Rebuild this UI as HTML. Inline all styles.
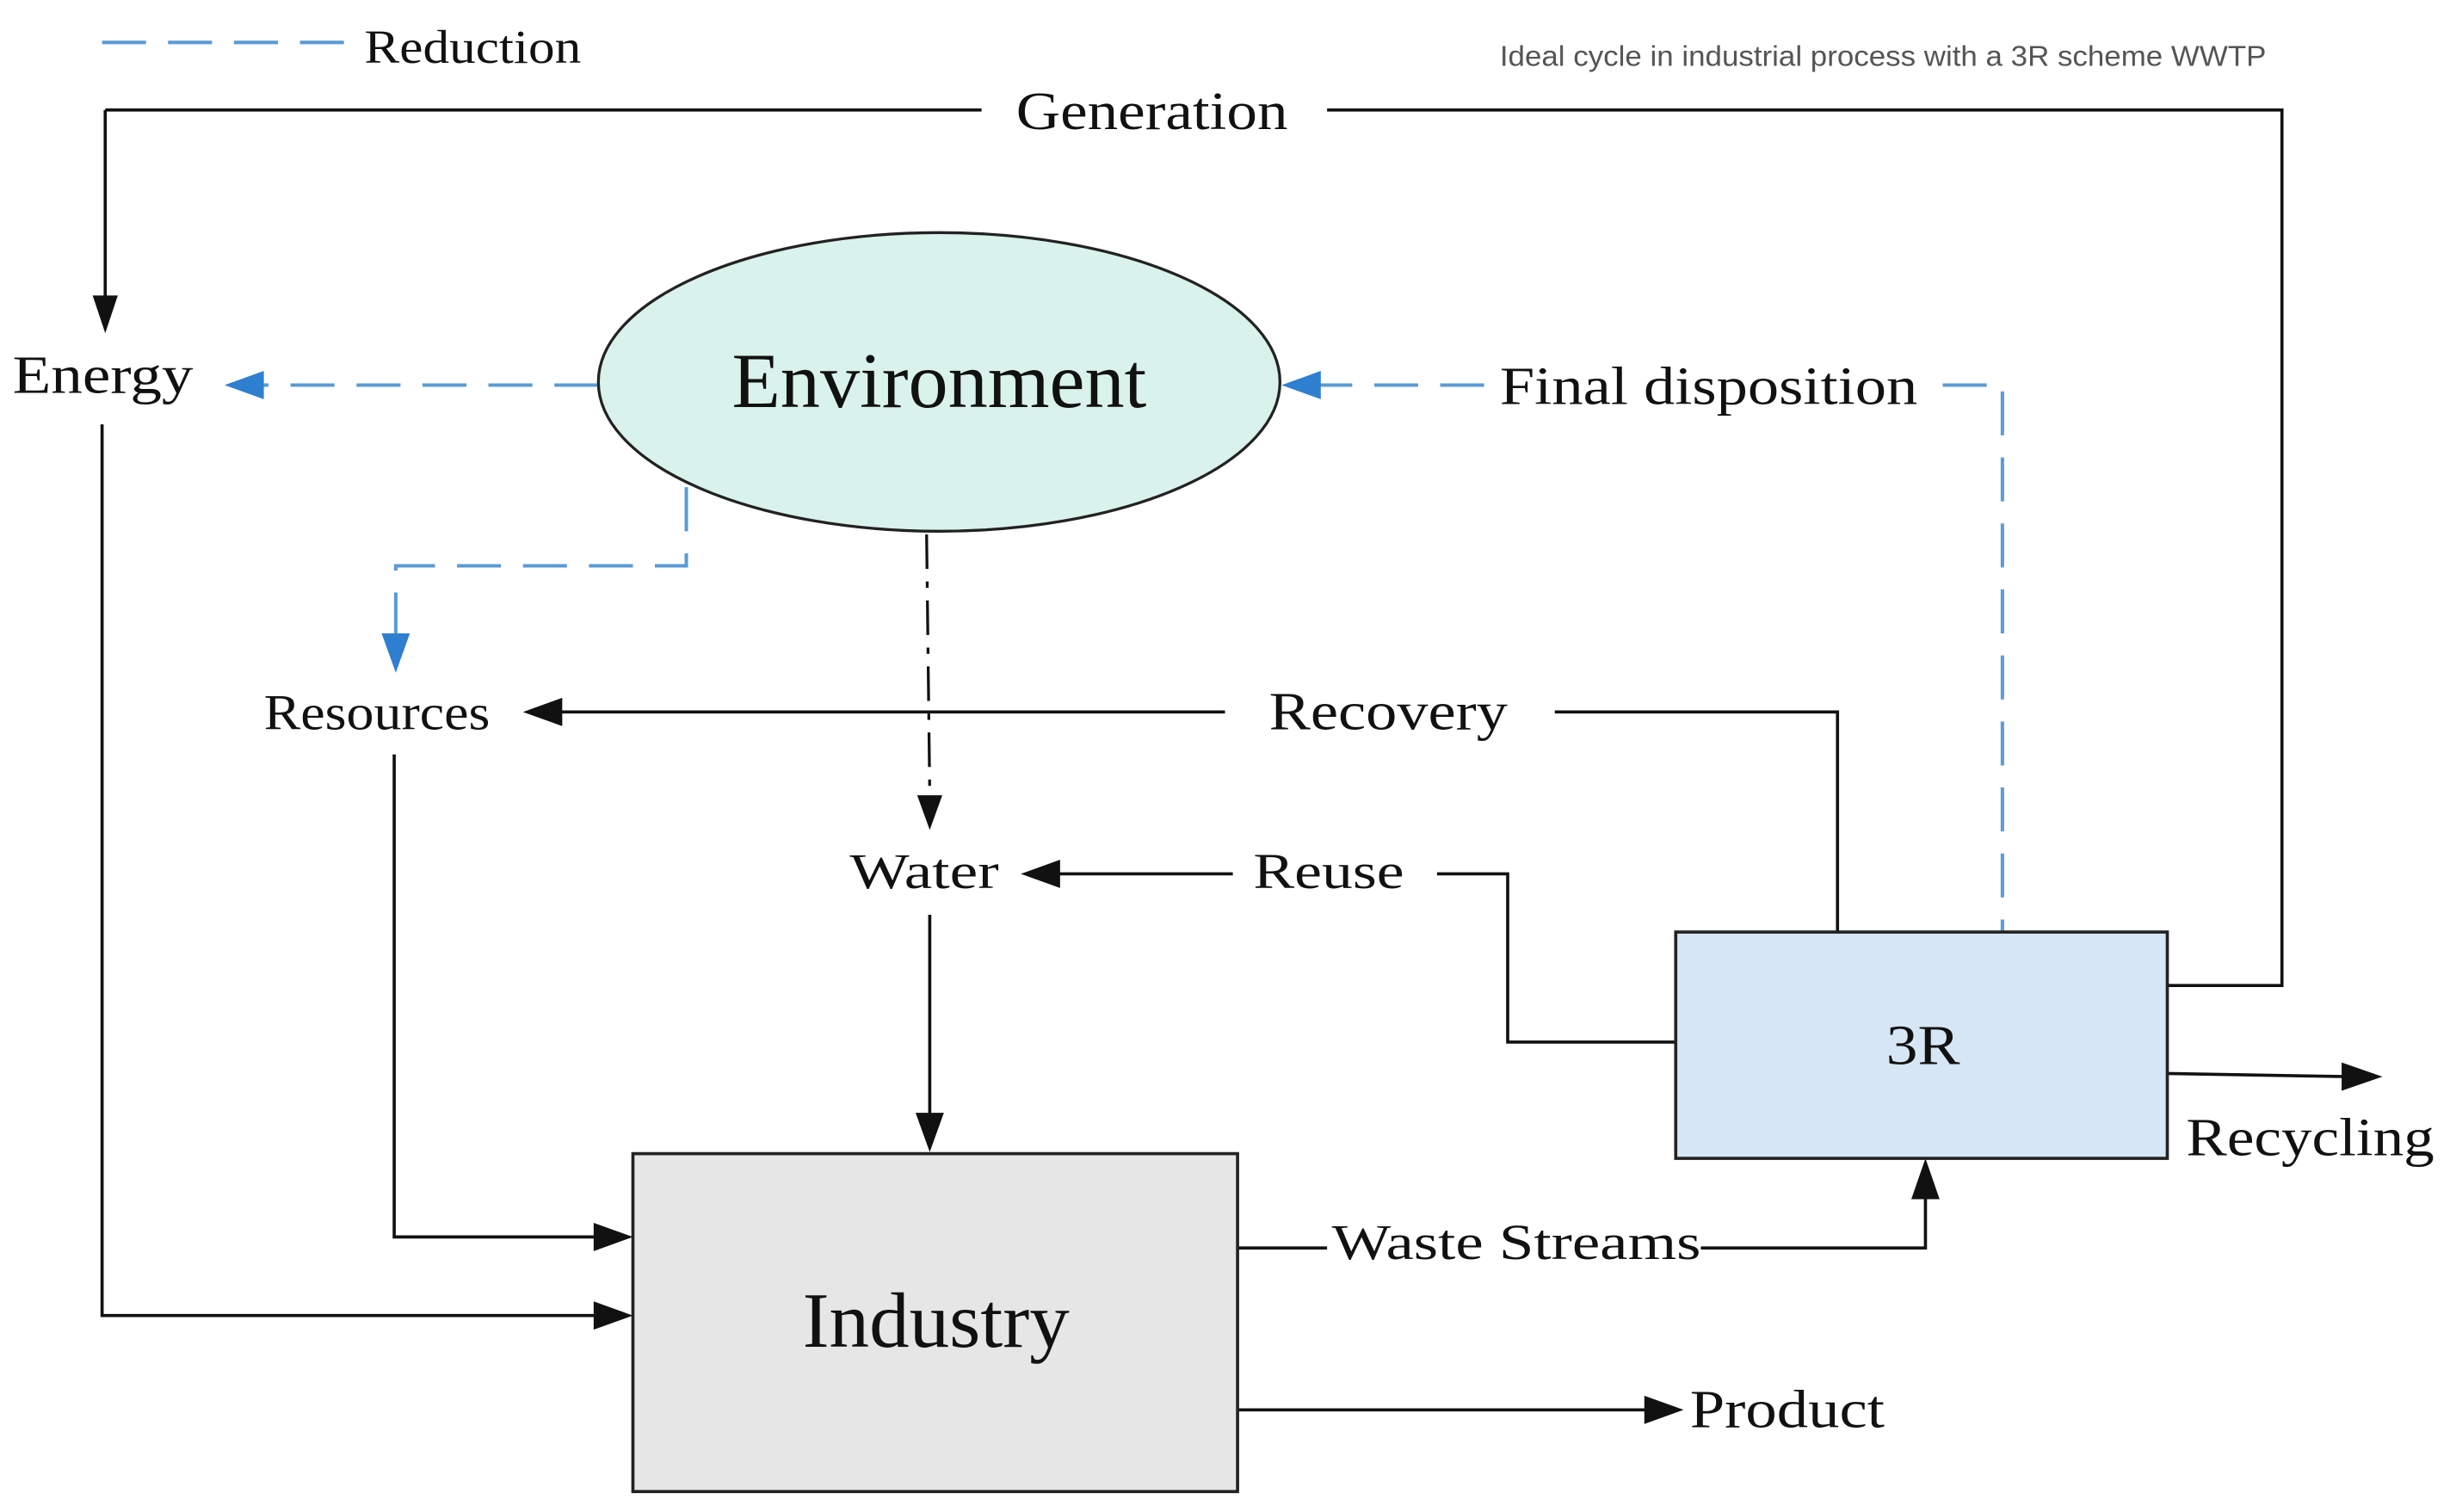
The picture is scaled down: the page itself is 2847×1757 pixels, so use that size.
<!DOCTYPE html>
<html><head><meta charset="utf-8">
<style>
html,body{margin:0;padding:0;background:#fff;}
svg{display:block;}
text{font-family:"Liberation Serif",serif;fill:#111;}
</style></head>
<body>
<svg width="2847" height="1757" viewBox="0 0 1560 962" preserveAspectRatio="none" xmlns="http://www.w3.org/2000/svg">
<g stroke="#111" stroke-width="2" fill="none">
<polyline points="67,70 625,70"/>
<polyline points="845,70 1453,70 1453,627 1380,627"/>
<line x1="67" y1="70" x2="67" y2="192"/>
<polyline points="65,270 65,837 380,837"/>
<polyline points="251,480 251,787 380,787"/>
<line x1="355" y1="453" x2="780" y2="453"/>
<polyline points="990,453 1170,453 1170,593"/>
<line x1="672" y1="556" x2="785" y2="556"/>
<polyline points="915,556 960,556 960,663 1067,663"/>
<line x1="592" y1="582" x2="592" y2="712"/>
<line x1="590" y1="340" x2="592" y2="505" stroke-dasharray="22,8,4,8" stroke-width="1.8"/>
<polyline points="788,794 845,794"/>
<polyline points="1083,794 1226,794 1226,760"/>
<line x1="788" y1="897" x2="1050" y2="897"/>
<line x1="1380" y1="683" x2="1495" y2="685"/>
</g>
<g fill="#111">
<polygon points="67,212 59,188 75,188"/>
<polygon points="403,837 378,828 378,846"/>
<polygon points="403,787 378,778 378,796"/>
<polygon points="333,453 358,444 358,462"/>
<polygon points="650,556 675,547 675,565"/>
<polygon points="592,733 583,708 601,708"/>
<polygon points="592,528 584,506 600,506"/>
<polygon points="1226,737 1217,763 1235,763"/>
<polygon points="1072,897 1047,888 1047,906"/>
<polygon points="1517,685 1491,676 1491,694"/>
</g>
<g stroke="#5b9bd5" stroke-width="2.2" fill="none" stroke-dasharray="28,14">
<line x1="65" y1="27" x2="228" y2="27"/>
<line x1="381" y1="245" x2="165" y2="245"/>
<line x1="945" y1="245" x2="838" y2="245"/>
<polyline points="1237,245 1275,245 1275,593"/>
<polyline points="437,310 437,360 252,360 252,405"/>
</g>
<g fill="#2e7fd0">
<polygon points="143,245 168,236 168,254"/>
<polygon points="816,245 841,236 841,254"/>
<polygon points="252,428 243,403 261,403"/>
</g>
<ellipse cx="598" cy="243" rx="217" ry="95" fill="#d9f2ec" stroke="#222" stroke-width="1.8"/>
<rect x="403" y="734" width="385" height="215" fill="#e6e6e6" stroke="#222" stroke-width="2"/>
<rect x="1067" y="593" width="313" height="144" fill="#d6e6f5" stroke="#222" stroke-width="2"/>
<text x="232" y="40" font-size="30" textLength="138" lengthAdjust="spacingAndGlyphs">Reduction</text>
<text x="955" y="42" font-size="18" style="font-family:'Liberation Sans',sans-serif;fill:#555" textLength="488" lengthAdjust="spacingAndGlyphs">Ideal cycle in industrial process with a 3R scheme WWTP</text>
<text x="647" y="82" font-size="34" textLength="173" lengthAdjust="spacingAndGlyphs">Generation</text>
<text x="8" y="250" font-size="34" textLength="115" lengthAdjust="spacingAndGlyphs">Energy</text>
<text x="466" y="259" font-size="50" textLength="264" lengthAdjust="spacingAndGlyphs">Environment</text>
<text x="955" y="257" font-size="34" textLength="266" lengthAdjust="spacingAndGlyphs">Final disposition</text>
<text x="168" y="464" font-size="32" textLength="144" lengthAdjust="spacingAndGlyphs">Resources</text>
<text x="808" y="464" font-size="34" textLength="152" lengthAdjust="spacingAndGlyphs">Recovery</text>
<text x="541" y="565" font-size="32" textLength="95" lengthAdjust="spacingAndGlyphs">Water</text>
<text x="798" y="565" font-size="32" textLength="96" lengthAdjust="spacingAndGlyphs">Reuse</text>
<text x="1201" y="677" font-size="36" textLength="47" lengthAdjust="spacingAndGlyphs">3R</text>
<text x="1392" y="735" font-size="34" textLength="158" lengthAdjust="spacingAndGlyphs">Recycling</text>
<text x="848" y="801" font-size="32" textLength="235" lengthAdjust="spacingAndGlyphs">Waste Streams</text>
<text x="511" y="857" font-size="50" textLength="170" lengthAdjust="spacingAndGlyphs">Industry</text>
<text x="1076" y="908" font-size="34" textLength="124" lengthAdjust="spacingAndGlyphs">Product</text>
</svg>
</body></html>
